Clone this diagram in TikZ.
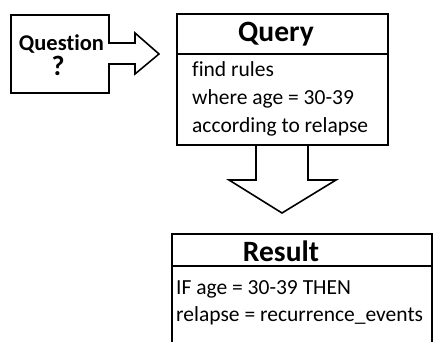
\documentclass[tikz,border=0pt]{standalone}
\usepackage{fontspec}
\setmainfont[RawFeature=-liga]{Carlito}
\begin{document}
\begin{tikzpicture}[x=1pt,y=-1pt,
  outline/.style={draw=black,line width=1.6pt,line join=miter},
  title/.style={font=\bfseries\fontsize{29.5}{33}\selectfont,inner sep=0pt},
  qtitle/.style={font=\bfseries\fontsize{22.5}{26}\selectfont,inner sep=0pt},
  body/.style={font=\fontsize{21.5}{25}\selectfont,anchor=base west,inner sep=0pt}]
\useasboundingbox (0,0) rectangle (434,342);

% question box with its arrow pointing to the query
\draw[outline] (11,15) -- (109,15) -- (109,43) -- (135,43) -- (135,33) -- (159,54)
  -- (135,74) -- (135,64) -- (109,64) -- (109,93) -- (11,93) -- cycle;
\node[qtitle] (qlabel) at (61.5,44) {Question};
\node[qtitle,font=\bfseries\fontsize{28}{30}\selectfont] (qmark) at (58,66) {?};

% query box with the downward arrow
\draw[outline] (177,14) rectangle (388,145);
\draw[outline] (177,54) -- (388,54);
\draw[outline] (256,145) -- (256,180) -- (229,180) -- (282,213) -- (336,180) -- (308,180) -- (308,145);
\node[title] (query) at (276,34) {Query};
\node[body] (q1) at (192,77) {find rules};
\node[body] (q2) at (192,105) {where age = 30-39};
\node[body] (q3) at (192,133) {according to relapse};

% result box, open at the bottom
\draw[outline] (172,350) -- (172,234) -- (432,234) -- (432,350);
\draw[outline] (172,266) -- (432,266);
\node[title] (result) at (281,251) {Result};
\node[body] (r1) at (176,294) {IF age = 30-39 THEN};
\node[body] (r2) at (176,321) {relapse = recurrence\_events};
\end{tikzpicture}
\end{document}
